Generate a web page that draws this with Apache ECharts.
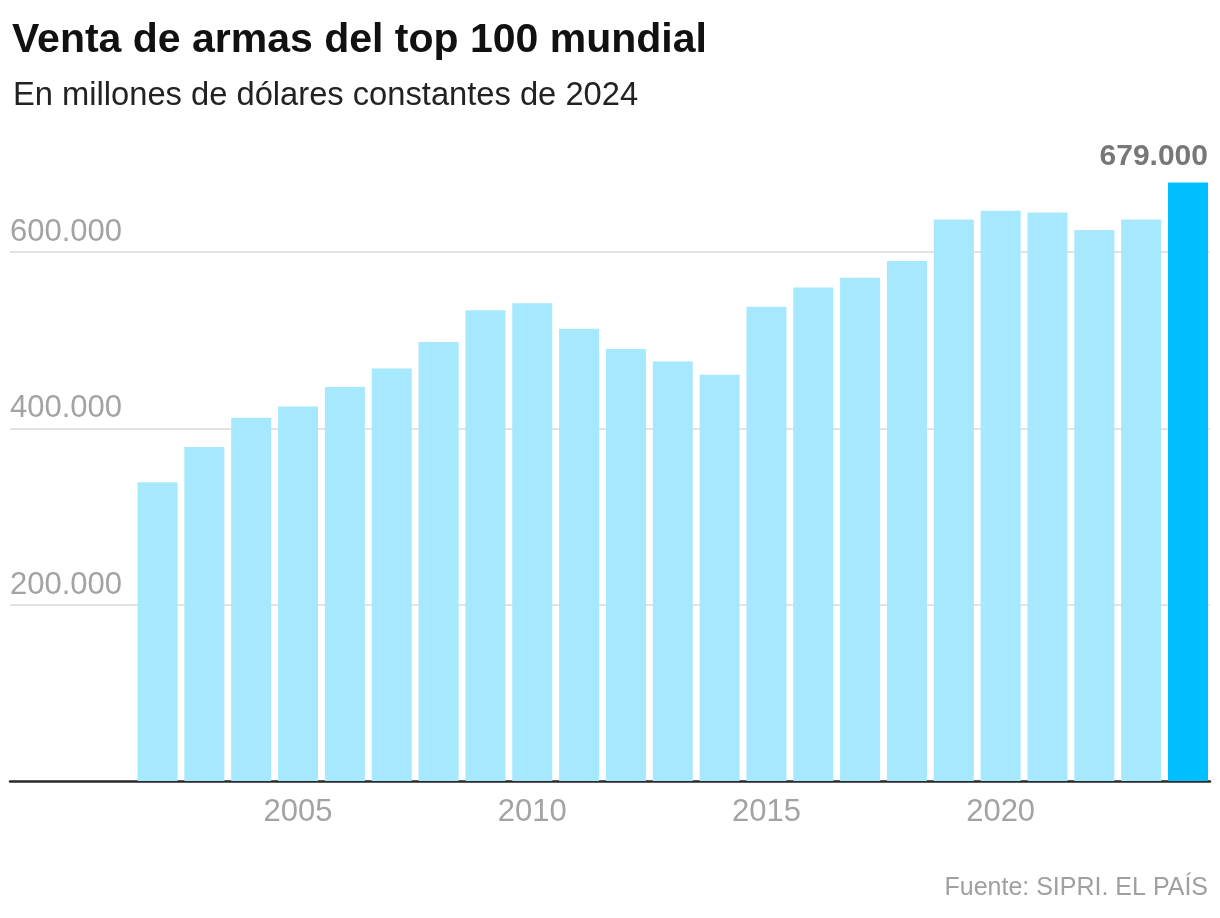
<!DOCTYPE html>
<html>
<head>
<meta charset="utf-8">
<script src="https://cdn.jsdelivr.net/npm/echarts@6/dist/echarts.min.js"></script>
<style>
html,body{margin:0;padding:0;background:#fff;}
#chart{width:1220px;height:918px;}
</style>
</head>
<body>
<div id="chart"></div>
<script>
const years = [2002,2003,2004,2005,2006,2007,2008,2009,2010,2011,2012,2013,2014,2015,2016,2017,2018,2019,2020,2021,2022,2023,2024];
const sales = [339000,379000,412000,425000,447000,468000,498000,534000,542000,513000,490000,476000,461000,538000,560000,571000,590000,637000,647000,645000,625000,637000,679000];
const xTickLabels = [2005,2010,2015,2020];
const yTicks = [200000,400000,600000];

const fmt = v => String(v).replace(/\B(?=(\d{3})+(?!\d))/g, '.');
const lastIdx = years.length - 1;

const chart = echarts.init(document.getElementById('chart'), null, {renderer:'canvas'});
chart.setOption({
  backgroundColor:'#fff',
  animation:false,
  title:[
    {text:'Venta de armas del top 100 mundial', left:7, top:15,
     textStyle:{fontFamily:'Liberation Sans', fontWeight:'bold', fontSize:41, color:'#111'}},
    {text:'En millones de dólares constantes de 2024', left:8, top:74,
     textStyle:{fontFamily:'Liberation Sans', fontWeight:'normal', fontSize:32.7, color:'#222'}},
    {text:'Fuente: SIPRI. EL PAÍS', right:7, top:871,
     textStyle:{fontFamily:'Liberation Sans', fontWeight:'normal', fontSize:25, color:'#a0a0a0'}}
  ],
  grid:{left:10, right:10, top:164, bottom:137, containLabel:false},
  xAxis:{
    type:'value', min:1998.85, max:2024.47,
    splitLine:{show:false},
    axisTick:{show:false},
    axisLine:{show:true, lineStyle:{color:'#2a2a2a', width:2.5}},
    axisLabel:{customValues:xTickLabels, formatter:v=>String(v), margin:16,
      fontFamily:'Liberation Sans', fontSize:31, color:'#a3a3a3'}
  },
  yAxis:{
    type:'value', min:0, max:700000, interval:200000,
    axisLine:{show:false}, axisTick:{show:false},
    splitLine:{show:true, showMinLine:false, showMaxLine:false, lineStyle:{color:'#e3e3e3', width:2}},
    axisLabel:{inside:true, margin:0, showMinLabel:false, showMaxLabel:false,
      verticalAlign:'bottom', padding:[0,0,4,0],
      formatter:v=>(yTicks.includes(v)?fmt(v):''),
      fontFamily:'Liberation Sans', fontSize:31, color:'#a3a3a3'}
  },
  series:[{
    type:'bar',
    barWidth:40,
    data: years.map((y,i)=>({
      value:[y, sales[i]],
      itemStyle:{color: i===lastIdx ? '#00bfff' : '#a6e8fe'},
      label: i===lastIdx ? {show:true, position:'top', align:'right', offset:[20,-6],
        formatter:()=>fmt(sales[i]), fontFamily:'Liberation Sans', fontWeight:'bold', fontSize:30, color:'#777'} : {show:false}
    }))
  }]
});
</script>
</body>
</html>
